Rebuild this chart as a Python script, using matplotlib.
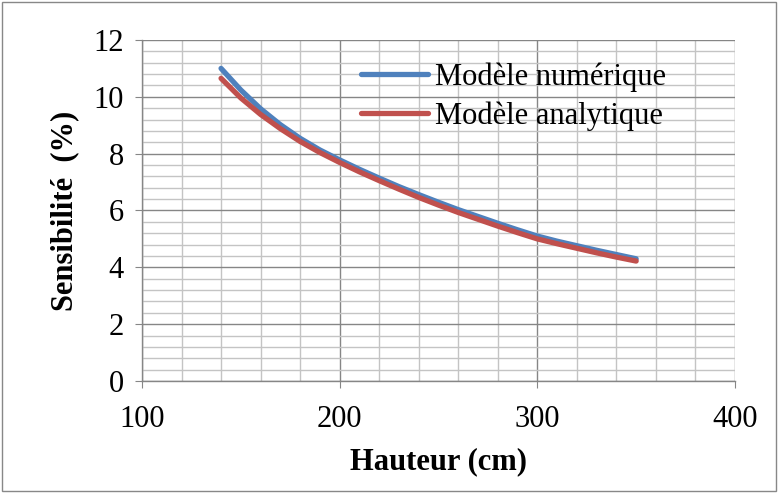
import matplotlib
matplotlib.use("Agg")
import matplotlib.pyplot as plt
from matplotlib.ticker import MultipleLocator
from matplotlib.patches import Rectangle

plt.rcParams['font.family'] = ['Liberation Serif', 'DejaVu Serif']

# --- Data ---
hauteur = [140, 150, 160, 170, 180, 190, 200, 210, 220, 230, 240,
           250, 260, 270, 280, 290, 300, 310, 320, 330, 340, 350]
numerique = [11.0, 10.24, 9.58, 9.02, 8.54, 8.13, 7.78, 7.45, 7.14, 6.84, 6.56,
             6.29, 6.03, 5.79, 5.55, 5.32, 5.1, 4.92, 4.76, 4.6, 4.45, 4.3]
analytique = [10.65, 9.96, 9.38, 8.88, 8.43, 8.04, 7.69, 7.36, 7.05, 6.75, 6.46,
              6.19, 5.93, 5.69, 5.45, 5.22, 5.0, 4.83, 4.67, 4.51, 4.36, 4.22]

fig = plt.figure(figsize=(7.78, 4.93), dpi=100)
ax = fig.add_axes([0.1825, 0.2272, 0.7622, 0.6917])

ax.plot(hauteur, numerique, color='#4F81BD', lw=3.8, label='Modèle numérique',
        solid_capstyle='round', solid_joinstyle='round')
ax.plot(hauteur, analytique, color='#C0504D', lw=3.8, label='Modèle analytique',
        solid_capstyle='round', solid_joinstyle='round')

ax.set_xlim(100, 400)
ax.set_ylim(0, 12)
ax.xaxis.set_major_locator(MultipleLocator(100))
ax.xaxis.set_minor_locator(MultipleLocator(20))
ax.yaxis.set_major_locator(MultipleLocator(2))
ax.yaxis.set_minor_locator(MultipleLocator(0.4))

ax.grid(which='major', color='#868686', lw=1.0)
ax.grid(which='minor', color='#c4c4c4', lw=1.0)
ax.set_axisbelow(True)

for s in ['top', 'right']:
    ax.spines[s].set_visible(False)
for s in ['left', 'bottom']:
    ax.spines[s].set_color('#868686')
    ax.spines[s].set_linewidth(1.0)

ax.tick_params(which='major', length=5, color='#868686', labelsize=22)
ax.tick_params(which='minor', length=0)
ax.tick_params(axis='x', pad=12)
ax.tick_params(axis='y', pad=8)

ax.set_xlabel('Hauteur (cm)', fontsize=22, fontweight='bold', labelpad=10)
ax.set_ylabel('Sensibilité  (%)', fontsize=22, fontweight='bold', labelpad=10)

leg = ax.legend(loc='upper right', bbox_to_anchor=(0.905, 0.97), frameon=False,
                fontsize=22, handlelength=2.2, handletextpad=0.25, labelspacing=0.3,
                borderaxespad=0)

fig.patches.append(Rectangle((0.003, 0.004), 0.994, 0.992, transform=fig.transFigure,
                             fill=False, edgecolor='#888888', lw=1.0))

fig.savefig('out.png', dpi=100)
